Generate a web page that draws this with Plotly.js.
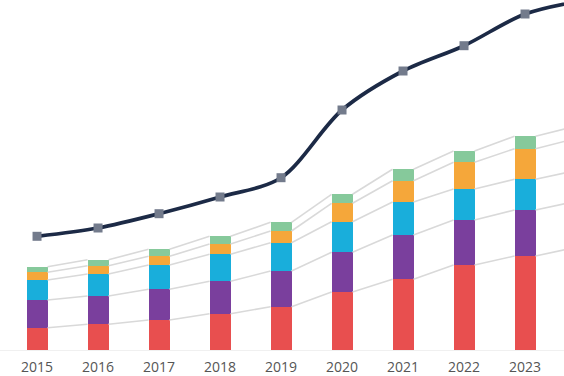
<!DOCTYPE html>
<html>
<head>
<meta charset="utf-8">
<script src="https://cdn.plot.ly/plotly-3.0.1.min.js"></script>
<style>html,body{margin:0;padding:0;background:#fff;}#chart{width:564px;height:376px;}</style>
</head>
<body>
<div id="chart"></div>
<script>
// Data (2024 lies just beyond the right edge)
const years = [2015, 2016, 2017, 2018, 2019, 2020, 2021, 2022, 2023, 2024];
const tickLabels = ['2015','2016','2017','2018','2019','2020','2021','2022','2023','2024'];
const seriesRed    = [22.3, 25.7, 30.0, 36.3, 43.3, 58.0, 70.7, 85.0, 94.0, 102.6];
const seriesPurple = [27.7, 28.3, 30.7, 32.4, 35.7, 39.7, 44.3, 45.0, 46.0, 46.0];
const seriesCyan   = [20.0, 22.0, 24.3, 27.0, 28.3, 30.6, 33.0, 31.0, 30.7, 30.7];
const seriesOrange = [7.7, 8.3, 8.7, 10.3, 11.7, 18.4, 21.3, 26.7, 30.6, 32.1];
const seriesGreen  = [5.6, 6.0, 7.0, 7.7, 8.7, 9.0, 11.4, 11.3, 12.4, 12.4];
const lineValues   = [113.7, 122.0, 136.3, 153.0, 172.3, 240.0, 279.0, 304.3, 336.0, 350.0];

const stack = [seriesRed, seriesPurple, seriesCyan, seriesOrange, seriesGreen];
const colors = ['#e84f4f', '#7a3f9d', '#19aedb', '#f5a73a', '#86c99b'];
const barWidth = 0.344;

const traces = [];
// connector lines between segment tops (edge to edge)
const cum = years.map((_, i) => {
  let s = 0; return stack.map(arr => (s += arr[i]));
});
for (let k = 0; k < stack.length; k++) {
  const xs = [], ys = [];
  for (let i = 0; i < years.length - 1; i++) {
    xs.push(years[i] + barWidth / 2, years[i + 1] - barWidth / 2, null);
    ys.push(cum[i][k], cum[i + 1][k], null);
  }
  traces.push({
    type: 'scatter', mode: 'lines', x: xs, y: ys,
    line: {color: '#d9d9d9', width: 1.6}, hoverinfo: 'skip', showlegend: false, connectgaps: false
  });
}
stack.forEach((arr, k) => {
  traces.push({
    type: 'bar', x: years, y: arr, width: barWidth,
    marker: {color: colors[k], line: {width: 0}}, showlegend: false
  });
});
traces.push({
  type: 'scatter', mode: 'lines+markers', x: years, y: lineValues,
  line: {color: '#1c2a46', width: 3.7, shape: 'spline', smoothing: 0.9},
  marker: {symbol: 'square', size: 9, color: '#737b8c'},
  showlegend: false, cliponaxis: true
});

const layout = {
  width: 564, height: 376,
  margin: {l: 0, r: 0, t: 0, b: 26, pad: 0},
  paper_bgcolor: '#fff', plot_bgcolor: '#fff',
  barmode: 'stack', bargap: 0,
  showlegend: false,
  xaxis: {
    range: [2015 - 0.607, 2015 + 8.639],
    tickvals: years, ticktext: tickLabels,
    showgrid: false, zeroline: false, showline: true, linecolor: '#f0f0f0', linewidth: 1,
    ticks: '', ticklabelstandoff: 4, tickfont: {family: 'Open Sans', size: 14, color: '#555'},
    fixedrange: true
  },
  yaxis: {
    range: [0, 350], visible: false, showgrid: false, zeroline: false, fixedrange: true
  }
};
Plotly.newPlot('chart', traces, layout, {displayModeBar: false, staticPlot: true});
</script>
</body>
</html>
